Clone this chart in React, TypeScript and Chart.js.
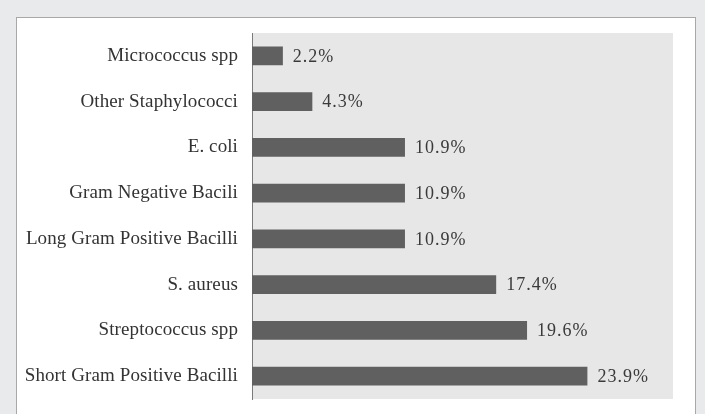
import React, { useEffect, useRef } from "react";
import { Chart, registerables } from "chart.js";

Chart.register(...registerables);

const categories = [
  "Micrococcus spp",
  "Other Staphylococci",
  "E. coli",
  "Gram Negative Bacili",
  "Long Gram Positive Bacilli",
  "S. aureus",
  "Streptococcus spp",
  "Short Gram Positive Bacilli",
];
const values = [2.2, 4.3, 10.9, 10.9, 10.9, 17.4, 19.6, 23.9];
const axisMin = 0;
const axisMax = 30;

const FONT = "'Liberation Serif', 'DejaVu Serif', serif";

const plotBg = {
  id: "plotBg",
  beforeDraw(chart: any) {
    const { ctx, chartArea } = chart;
    ctx.save();
    ctx.fillStyle = "#e6e7e6";
    ctx.fillRect(chartArea.left, chartArea.top, chartArea.right - chartArea.left, chartArea.bottom - chartArea.top);
    ctx.restore();
    (ctx as any).letterSpacing = "0.1px";
  },
  afterDraw(chart: any) {
    (chart.ctx as any).letterSpacing = "0px";
  },
};

const valueLabels = {
  id: "valueLabels",
  afterDatasetsDraw(chart: any) {
    const { ctx } = chart;
    const meta = chart.getDatasetMeta(0);
    ctx.save();
    ctx.font = `18px ${FONT}`;
    ctx.fillStyle = "#3a3a3a";
    ctx.textBaseline = "middle";
    ctx.textAlign = "left";
    (ctx as any).letterSpacing = "1px";
    meta.data.forEach((bar: any, i: number) => {
      ctx.fillText(values[i].toFixed(1) + "%", bar.x + 10, bar.y + 1);
    });
    ctx.restore();
  },
};

export default function App() {
  const ref = useRef<HTMLCanvasElement>(null);
  useEffect(() => {
    if (!ref.current) return;
    const chart = new Chart(ref.current, {
      type: "bar",
      data: {
        labels: categories,
        datasets: [
          {
            data: values,
            backgroundColor: "#606060",
            borderWidth: 0,
            barPercentage: 0.41,
            categoryPercentage: 1,
          },
        ],
      },
      options: {
        indexAxis: "y",
        responsive: false,
        animation: false,
        layout: { padding: { top: 15, right: 21, bottom: 15, left: 0 } },
        plugins: { legend: { display: false }, tooltip: { enabled: false } },
        scales: {
          x: { display: false, min: axisMin, max: axisMax },
          y: {
            afterFit(scale: any) {
              scale.width = 235;
              scale.paddingTop = 0;
              scale.paddingBottom = 0;
            },
            grid: { display: false, drawTicks: false },
            border: { display: true, color: "#7a7a7a", width: 1 },
            ticks: {
              padding: 14,
              color: "#333333",
              font: { family: FONT, size: 19 },
            },
          },
        },
      },
      plugins: [plotBg, valueLabels],
    });
    return () => chart.destroy();
  }, []);
  return (
    <div style={{ position: "absolute", left: 0, top: 0, width: 705, height: 414, background: "#e9eaeb", overflow: "hidden" }}>
      <div
        style={{
          position: "absolute",
          left: 16,
          top: 17,
          width: 680,
          height: 420,
          boxSizing: "border-box",
          border: "1px solid #a8a8a8",
          background: "#ffffff",
        }}
      >
        <canvas ref={ref} width={677} height={396} style={{ position: "absolute", left: 0, top: 0 }} />
      </div>
    </div>
  );
}
